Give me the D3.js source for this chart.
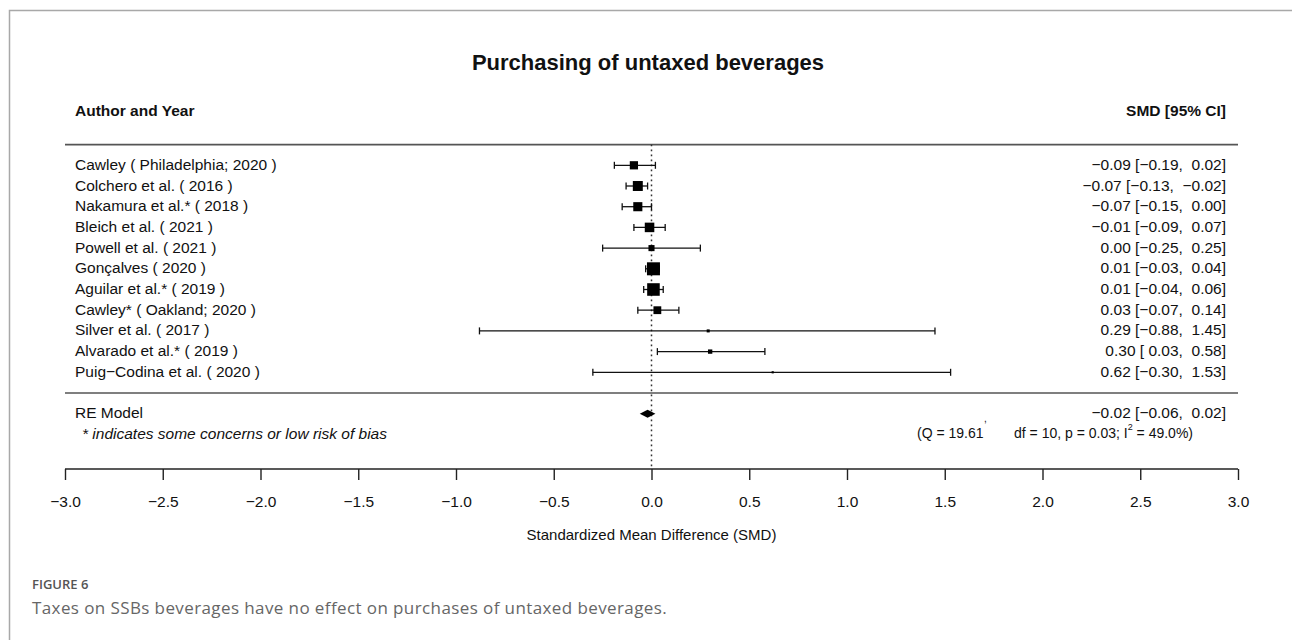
<!DOCTYPE html>
<html>
<head>
<meta charset="utf-8">
<script src="https://cdn.jsdelivr.net/npm/d3@7"></script>
<style>
  body { margin: 0; background: #fff; }
  svg { display: block; }
</style>
</head>
<body>
<svg id="chart" width="1292" height="640"></svg>
<script>
// Study labels, top to bottom
const studies = [
  "Cawley ( Philadelphia; 2020 )",
  "Colchero et al. ( 2016 )",
  "Nakamura et al.* ( 2018 )",
  "Bleich et al. ( 2021 )",
  "Powell et al. ( 2021 )",
  "Gonçalves ( 2020 )",
  "Aguilar et al.* ( 2019 )",
  "Cawley* ( Oakland; 2020 )",
  "Silver et al. ( 2017 )",
  "Alvarado et al.* ( 2019 )",
  "Puig−Codina et al. ( 2020 )"
];
// Standardized mean differences with 95% confidence limits
const smd    = [-0.09, -0.07, -0.07, -0.01, 0.00, 0.01, 0.01, 0.03, 0.29, 0.30, 0.62];
const ciLow  = [-0.19, -0.13, -0.15, -0.09, -0.25, -0.03, -0.04, -0.07, -0.88, 0.03, -0.30];
const ciHigh = [0.02, -0.02, 0.00, 0.07, 0.25, 0.04, 0.06, 0.14, 1.45, 0.58, 1.53];
// Random-effects weights (%), drive the square sizes
const weights = [9.5, 11.5, 10.5, 11, 7, 15, 14.5, 9, 3.5, 5, 2.5];
// Pooled random-effects estimate: [estimate, lower, upper]
const reModel = [-0.02, -0.06, 0.02];
// Axis ticks
const xTicks = [-3.0, -2.5, -2.0, -1.5, -1.0, -0.5, 0.0, 0.5, 1.0, 1.5, 2.0, 2.5, 3.0];

const svg = d3.select("#chart");
const W = 1292, H = 640;
const FONT = "'Liberation Sans', Arial, sans-serif";

const x = d3.scaleLinear().domain([-3, 3]).range([65, 1238]);
// row 11 is the top study, row 0 the separator line, row -1 the pooled estimate
const y = d3.scaleLinear().domain([0, 11]).range([393, 165.3]);
const size = d3.scaleLinear().domain([0, d3.max(weights)]).range([0, 13]);

const fmt = v => {
  const s = Math.abs(v).toFixed(2);
  return (v < 0 ? "\u2212" : "") + s;
};
const ciText = (e, l, h) => {
  const lo = l < 0 ? fmt(l) : " " + fmt(l);
  return `${fmt(e)} [${lo},  ${fmt(h)}]`;
};

// outer panel frame
svg.append("path")
  .attr("d", `M9.5,${H} L9.5,10.5 L${W},10.5`)
  .attr("fill", "none").attr("stroke", "#a8a8a8").attr("stroke-width", 1.5);

// title
svg.append("text")
  .attr("x", 648).attr("y", 62)
  .attr("text-anchor", "middle").attr("dominant-baseline", "central")
  .attr("font-family", FONT).attr("font-weight", "bold").attr("font-size", 22)
  .attr("fill", "#111")
  .text("Purchasing of untaxed beverages");

// column headers
svg.append("text")
  .attr("x", 75).attr("y", 110).attr("dominant-baseline", "central")
  .attr("font-family", FONT).attr("font-weight", "bold").attr("font-size", 15.5)
  .attr("fill", "#111").text("Author and Year");
svg.append("text")
  .attr("x", 1226).attr("y", 110).attr("dominant-baseline", "central")
  .attr("text-anchor", "end")
  .attr("font-family", FONT).attr("font-weight", "bold").attr("font-size", 15.5)
  .attr("fill", "#111").text("SMD [95% CI]");

// horizontal rules under the header and above the pooled row
svg.selectAll("line.rule")
  .data([12, 0])
  .join("line").attr("class", "rule")
  .attr("x1", x(-3)).attr("x2", x(3))
  .attr("y1", d => y(d)).attr("y2", d => y(d))
  .attr("stroke", "#555").attr("stroke-width", 1.6);

// reference line at zero
svg.append("line")
  .attr("x1", x(0)).attr("x2", x(0))
  .attr("y1", y(12)).attr("y2", 469)
  .attr("stroke", "#333").attr("stroke-width", 1.5)
  .attr("stroke-dasharray", "1.6,3.4");

const rows = studies.map((s, i) => ({
  label: s, est: smd[i], lo: ciLow[i], hi: ciHigh[i], w: weights[i], row: 11 - i
}));

// study labels
svg.selectAll("text.study")
  .data(rows).join("text").attr("class", "study")
  .attr("x", 75).attr("y", d => y(d.row) - 1).attr("dominant-baseline", "central")
  .attr("font-family", FONT).attr("font-size", 15.5).attr("fill", "#111")
  .text(d => d.label);

// effect-size labels
svg.selectAll("text.es")
  .data(rows).join("text").attr("class", "es")
  .attr("x", 1226).attr("y", d => y(d.row) - 1).attr("dominant-baseline", "central")
  .attr("text-anchor", "end").style("white-space", "pre")
  .attr("font-family", FONT).attr("font-size", 15.5).attr("fill", "#111")
  .text(d => ciText(d.est, d.lo, d.hi));

// confidence intervals with end caps
const ci = svg.selectAll("g.ci").data(rows).join("g").attr("class", "ci");
ci.append("line")
  .attr("x1", d => x(d.lo)).attr("x2", d => x(d.hi))
  .attr("y1", d => y(d.row)).attr("y2", d => y(d.row))
  .attr("stroke", "#111").attr("stroke-width", 1.3);
ci.selectAll("line.cap")
  .data(d => [[d.lo, d.row], [d.hi, d.row]])
  .join("line").attr("class", "cap")
  .attr("x1", d => x(d[0])).attr("x2", d => x(d[0]))
  .attr("y1", d => y(d[1]) - 3.5).attr("y2", d => y(d[1]) + 3.5)
  .attr("stroke", "#111").attr("stroke-width", 1.3);

// weight-scaled squares
svg.selectAll("rect.pt")
  .data(rows).join("rect").attr("class", "pt")
  .attr("x", d => x(d.est) - size(d.w) / 2)
  .attr("y", d => y(d.row) - size(d.w) / 2)
  .attr("width", d => size(d.w)).attr("height", d => size(d.w))
  .attr("fill", "#000");

// pooled estimate
svg.append("text")
  .attr("x", 75).attr("y", y(-1) - 1).attr("dominant-baseline", "central")
  .attr("font-family", FONT).attr("font-size", 15.5).attr("fill", "#111")
  .text("RE Model");
svg.append("polygon")
  .attr("points", [
    [x(reModel[1]), y(-1)], [x(reModel[0]), y(-1) - 4],
    [x(reModel[2]), y(-1)], [x(reModel[0]), y(-1) + 4]
  ].map(p => p.join(",")).join(" "))
  .attr("fill", "#000");
svg.append("text")
  .attr("x", 1226).attr("y", y(-1) - 1).attr("dominant-baseline", "central")
  .attr("text-anchor", "end").style("white-space", "pre")
  .attr("font-family", FONT).attr("font-size", 15.5).attr("fill", "#111")
  .text(ciText(reModel[0], reModel[1], reModel[2]));

// footnote and heterogeneity statistics
svg.append("text")
  .attr("x", 82).attr("y", 433).attr("dominant-baseline", "central")
  .attr("font-family", FONT).attr("font-size", 15.5).attr("font-style", "italic")
  .attr("fill", "#111")
  .text("* indicates some concerns or low risk of bias");
svg.append("text")
  .attr("x", 917).attr("y", 433).attr("dominant-baseline", "central")
  .attr("font-family", FONT).attr("font-size", 14).attr("fill", "#111")
  .text("(Q = 19.61");
svg.append("text")
  .attr("x", 984).attr("y", 418).attr("dominant-baseline", "central")
  .attr("font-family", FONT).attr("font-size", 10).attr("fill", "#111")
  .text(",");
const het = svg.append("text")
  .attr("x", 1193).attr("y", 433).attr("dominant-baseline", "central")
  .attr("text-anchor", "end")
  .attr("font-family", FONT).attr("font-size", 14).attr("fill", "#111");
het.append("tspan").text("df = 10, p = 0.03; I");
het.append("tspan").attr("font-size", 9).attr("dy", -6).text("2");
het.append("tspan").attr("dy", 6).text(" = 49.0%)");

// x axis
const axis = svg.append("g")
  .attr("transform", "translate(0,469)")
  .call(d3.axisBottom(x).tickValues(xTicks).tickSize(11).tickPadding(16)
    .tickFormat(d => d < 0 ? "\u2212" + Math.abs(d).toFixed(1) : d.toFixed(1)));
axis.select(".domain").attr("stroke", "#222").attr("stroke-width", 1.4)
  .attr("d", `M${x(-3)},0H${x(3)}`);
axis.selectAll(".tick line").attr("stroke", "#222").attr("stroke-width", 1.4);
axis.selectAll(".tick text")
  .attr("font-family", FONT).attr("font-size", 15.5).attr("fill", "#111");

svg.append("text")
  .attr("x", x(0)).attr("y", 534).attr("dominant-baseline", "central")
  .attr("text-anchor", "middle")
  .attr("font-family", FONT).attr("font-size", 15).attr("fill", "#111")
  .text("Standardized Mean Difference (SMD)");

// figure caption
svg.append("text")
  .attr("x", 32).attr("y", 584).attr("dominant-baseline", "central")
  .attr("font-family", "'Open Sans', sans-serif").attr("font-weight", 600)
  .attr("font-size", 13).attr("fill", "#555")
  .text("FIGURE 6");
svg.append("text")
  .attr("x", 32).attr("y", 607).attr("dominant-baseline", "central")
  .attr("font-family", "'Open Sans', sans-serif").attr("font-weight", 400)
  .attr("font-size", 17).attr("letter-spacing", 0.4).attr("fill", "#666")
  .text("Taxes on SSBs beverages have no effect on purchases of untaxed beverages.");
</script>
</body>
</html>
